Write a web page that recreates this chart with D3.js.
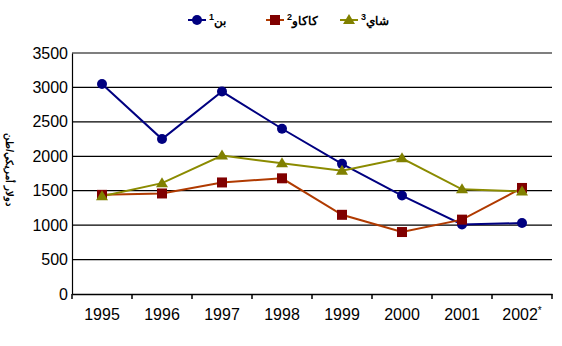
<!DOCTYPE html>
<html>
<head>
<meta charset="utf-8">
<script src="https://cdn.jsdelivr.net/npm/d3@7"></script>
<style>
  body { margin: 0; background: #fff; }
  text { font-family: "Liberation Sans", Arial, sans-serif; }
</style>
</head>
<body>
<svg id="chart" width="562" height="346"></svg>
<script>
// data
let years = ["1995", "1996", "1997", "1998", "1999", "2000", "2001", "2002*"];
let coffee = [3050, 2250, 2940, 2400, 1890, 1430, 1010, 1030];
let cocoa  = [1440, 1460, 1620, 1680, 1150, 900, 1080, 1540];
let tea    = [1420, 1610, 2010, 1900, 1790, 1970, 1520, 1490];
let yTicks = [0, 500, 1000, 1500, 2000, 2500, 3000, 3500];

let series = [
    {name: "بن", sup: "1", values: coffee, line: "#000080", marker: "#000080", shape: "circle"},
    {name: "كاكاو", sup: "2", values: cocoa, line: "#b03a00", marker: "#800000", shape: "square"},
    {name: "شاي", sup: "3", values: tea, line: "#8b8b00", marker: "#808000", shape: "triangle"}
];

let margin = {top: 53, right: 10, bottom: 52, left: 72};
let width = 552 - margin.left;
let height = 294 - margin.top;

let svg = d3.select("#chart").append("g")
    .attr("transform", `translate(${margin.left}, ${margin.top})`);

let xScale = d3.scaleBand().domain(years).range([0, width]);
let yScale = d3.scaleLinear().domain([0, 3500]).range([height, 0]);

// gridlines
svg.append("g").selectAll("line")
    .data(yTicks.filter(d => d > 0))
    .enter().append("line")
    .attr("x1", 0).attr("x2", width)
    .attr("y1", d => yScale(d)).attr("y2", d => yScale(d))
    .attr("stroke", "#000").attr("stroke-width", 1.2);

// y axis
let yAxis = svg.append("g")
    .call(d3.axisLeft(yScale).tickValues(yTicks).tickFormat(d3.format("d")).tickSize(0).tickPadding(4));
yAxis.select(".domain").attr("stroke", "#000").attr("stroke-width", 1.2);
yAxis.selectAll("text").attr("font-size", "16px").attr("fill", "#000")
    .attr("font-family", "Liberation Sans");

// x axis
let xAxis = svg.append("g")
    .attr("transform", `translate(0, ${height})`)
    .call(d3.axisBottom(xScale).tickSize(0).tickPadding(15));
xAxis.select(".domain").attr("stroke", "#000").attr("stroke-width", 1.5);
xAxis.selectAll("text").attr("font-size", "16px").attr("fill", "#000")
    .attr("font-family", "Liberation Sans");
xAxis.selectAll(".tick text")
    .each(function(d) {
        if (d.endsWith("*")) {
            let t = d3.select(this).text(d.slice(0, -1));
            t.append("tspan").attr("font-size", "10px").attr("dy", "-6").text("*");
        }
    });
// band boundary ticks
svg.append("g").selectAll("line")
    .data(years.concat(["end"]))
    .enter().append("line")
    .attr("x1", (d, i) => i * xScale.step()).attr("x2", (d, i) => i * xScale.step())
    .attr("y1", height).attr("y2", height + 5)
    .attr("stroke", "#000").attr("stroke-width", 1.5);

// y label
svg.append("text")
    .attr("transform", `translate(${-margin.left + 6}, ${height / 2 - 4}) rotate(90)`)
    .attr("text-anchor", "middle")
    .attr("font-size", "10px")
    .attr("font-family", "DejaVu Sans")
    .attr("font-weight", "bold")
    .text("دولار أمريكي/طن");

// lines and markers
let cx = i => xScale(years[i]) + xScale.bandwidth() / 2;
let line = d3.line().x((d, i) => cx(i)).y(d => yScale(d));

function drawMarker(g, shape, color, x, y) {
    if (shape === "circle") {
        g.append("circle").attr("cx", x).attr("cy", y).attr("r", 5).attr("fill", color);
    } else if (shape === "square") {
        g.append("rect").attr("x", x - 5).attr("y", y - 5).attr("width", 10).attr("height", 10).attr("fill", color);
    } else {
        g.append("path").attr("d", `M${x},${y - 6}L${x + 6},${y + 4}L${x - 6},${y + 4}Z`).attr("fill", color);
    }
}

series.forEach(function(s) {
    svg.append("path")
        .datum(s.values)
        .attr("d", line)
        .attr("fill", "none")
        .attr("stroke", s.line)
        .attr("stroke-width", 2);
});
series.forEach(function(s) {
    let g = svg.append("g");
    s.values.forEach((v, i) => drawMarker(g, s.shape, s.marker, cx(i), yScale(v)));
});

// legend
let legendX = [188, 266, 340];
let legend = d3.select("#chart").append("g");
series.forEach(function(s, i) {
    let lg = legend.append("g").attr("transform", `translate(${legendX[i]}, 20)`);
    lg.append("line").attr("x1", 0).attr("x2", 18).attr("y1", 0).attr("y2", 0)
        .attr("stroke", s.line).attr("stroke-width", 2);
    drawMarker(lg, s.shape, s.marker, 9, 0);
    let t = lg.append("text").attr("x", 21).attr("y", 5)
        .attr("font-size", "12px").attr("font-weight", "bold").attr("fill", "#000")
        .attr("font-family", "DejaVu Sans");
    t.append("tspan").text(s.name);
    t.append("tspan").attr("font-size", "9px").attr("dy", "-5").text(s.sup);
});
</script>
</body>
</html>
